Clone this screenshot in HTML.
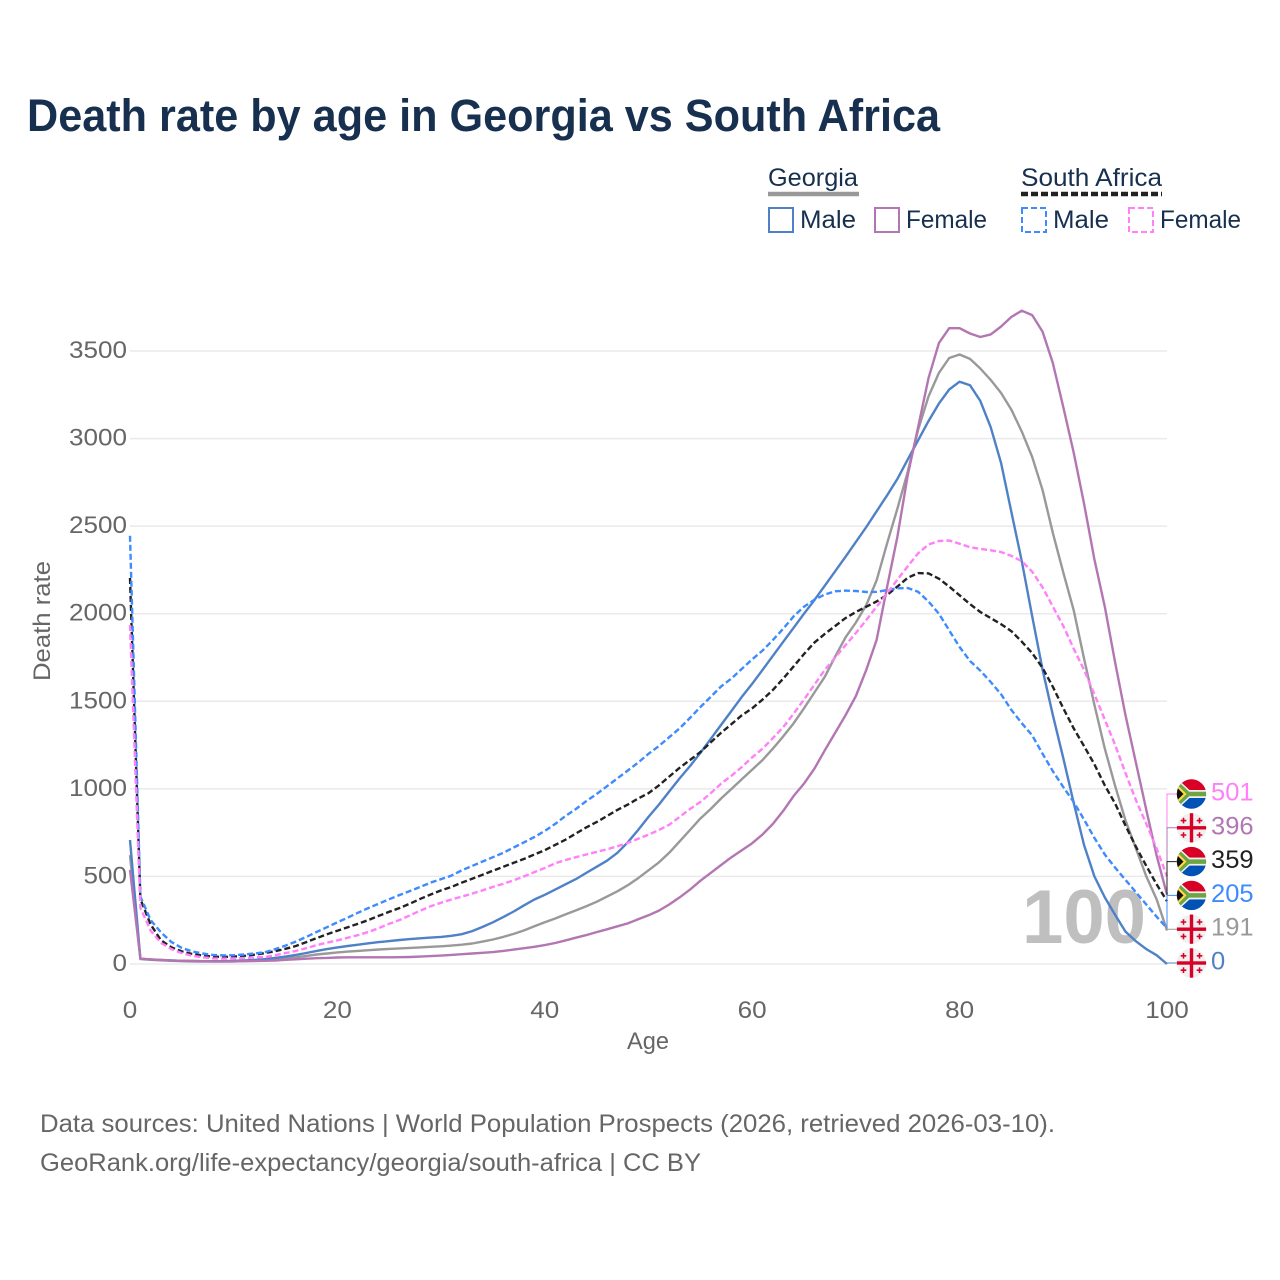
<!DOCTYPE html>
<html lang="en">
<head>
<meta charset="utf-8">
<title>Death rate by age in Georgia vs South Africa</title>
<style>
html,body{margin:0;padding:0;background:#fff;}
svg{display:block;font-family:"Liberation Sans",sans-serif;}
</style>
</head>
<body>
<svg id="chart" xmlns="http://www.w3.org/2000/svg" width="1280" height="1280" viewBox="0 0 1280 1280">
  <rect x="0" y="0" width="1280" height="1280" fill="#fff"/>
  <text x="27" y="131" font-size="45" font-weight="700" fill="#17304f" textLength="913" lengthAdjust="spacingAndGlyphs">Death rate by age in Georgia vs South Africa</text>

  <g>
    <text x="768" y="186" font-size="25" fill="#17304f" textLength="90" lengthAdjust="spacingAndGlyphs">Georgia</text>
    <line x1="768" x2="859" y1="194" y2="194" stroke="#999" stroke-width="4.5"/>
    <text x="1021" y="186" font-size="25" fill="#17304f" textLength="141" lengthAdjust="spacingAndGlyphs">South Africa</text>
    <line x1="1021" x2="1162" y1="194" y2="194" stroke="#222" stroke-width="4.5" stroke-dasharray="7 3"/>
    <rect x="769" y="208" width="24" height="24" fill="none" stroke="#4f81c7" stroke-width="2"/>
    <text x="800" y="228" font-size="25" fill="#17304f" textLength="56" lengthAdjust="spacingAndGlyphs">Male</text>
    <rect x="875" y="208" width="24" height="24" fill="none" stroke="#b376b3" stroke-width="2"/>
    <text x="906" y="228" font-size="25" fill="#17304f" textLength="81" lengthAdjust="spacingAndGlyphs">Female</text>
    <rect x="1022" y="208" width="24" height="24" fill="none" stroke="#3d8bff" stroke-width="2" stroke-dasharray="6 3"/>
    <text x="1053" y="228" font-size="25" fill="#17304f" textLength="56" lengthAdjust="spacingAndGlyphs">Male</text>
    <rect x="1129" y="208" width="24" height="24" fill="none" stroke="#ff80f7" stroke-width="2" stroke-dasharray="6 3"/>
    <text x="1160" y="228" font-size="25" fill="#17304f" textLength="81" lengthAdjust="spacingAndGlyphs">Female</text>
  </g>

  <g id="grid"></g>
  <g id="yticks"></g>
  <g id="xticks"></g>
  <text x="1146" y="943" text-anchor="end" font-size="76" font-weight="700" fill="#bfbfbf" textLength="124" lengthAdjust="spacingAndGlyphs">100</text>
  <text transform="translate(50 621) rotate(-90)" text-anchor="middle" font-size="24" fill="#666" textLength="120" lengthAdjust="spacingAndGlyphs">Death rate</text>
  <text x="648" y="1049" text-anchor="middle" font-size="24" fill="#666" textLength="42" lengthAdjust="spacingAndGlyphs">Age</text>
  <g id="series"></g>
  <g id="labels"></g>

  <text x="40" y="1132" font-size="25" fill="#666" textLength="1015" lengthAdjust="spacingAndGlyphs">Data sources: United Nations | World Population Prospects (2026, retrieved 2026-03-10).</text>
  <text x="40" y="1171" font-size="25" fill="#666" textLength="661" lengthAdjust="spacingAndGlyphs">GeoRank.org/life-expectancy/georgia/south-africa | CC BY</text>

  <defs>
    <clipPath id="flag-clip"><circle cx="0" cy="0" r="14.7"/></clipPath>
    <g id="flag-za" clip-path="url(#flag-clip)">
      <rect x="-15" y="-15" width="30" height="30" fill="#f0f0f0"/>
      <rect x="-15" y="-15" width="30" height="11" fill="#d80027"/>
      <rect x="-15" y="4" width="30" height="11" fill="#0052b4"/>
      <path d="M-15 -15 L-2 -3 H15 V3 H-2 L-15 15 Z" fill="#6da544"/>
      <path d="M-15 -15 L-2 -3 H15 M15 3 H-2 L-15 15" fill="none" stroke="#f0f0f0" stroke-width="1.5"/>
      <path d="M-15 -10 L-5 0 L-15 10 Z" fill="#ffda44"/>
      <path d="M-15 -7 L-8 0 L-15 7 Z" fill="#111"/>
    </g>
    <g id="flag-ge" clip-path="url(#flag-clip)">
      <rect x="-15" y="-15" width="30" height="30" fill="#f0f0f0"/>
      <rect x="-15" y="-1.7" width="30" height="3.4" fill="#d80027"/>
      <rect x="-1.7" y="-15" width="3.4" height="30" fill="#d80027"/>
      <path d="M-8.8 -10 h1.6 v2 h2 v1.6 h-2 v2 h-1.6 v-2 h-2 v-1.6 h2 Z M7.2 -10 h1.6 v2 h2 v1.6 h-2 v2 h-1.6 v-2 h-2 v-1.6 h2 Z M-8.8 4.4 h1.6 v2 h2 v1.6 h-2 v2 h-1.6 v-2 h-2 v-1.6 h2 Z M7.2 4.4 h1.6 v2 h2 v1.6 h-2 v2 h-1.6 v-2 h-2 v-1.6 h2 Z" fill="#d80027"/>
    </g>
  </defs>
</svg>

<script>
const xTicks = [0, 20, 40, 60, 80, 100];
const yTicks = [0, 500, 1000, 1500, 2000, 2500, 3000, 3500];

const georgiaTotal = [
  622,28,24,21,18,16,15,14,14,14,
  15,17,19,22,26,32,38,46,54,60,
  66,71,75,79,83,86,89,92,95,98,
  101,105,110,117,128,140,155,172,192,215,
  238,260,283,306,330,355,385,415,450,490,
  535,580,635,700,765,830,885,945,1000,1055,
  1110,1165,1230,1300,1375,1460,1550,1640,1755,1865,
  1950,2050,2190,2400,2600,2810,3050,3240,3375,3460,
  3480,3455,3400,3335,3260,3165,3040,2895,2705,2460,
  2235,2020,1745,1480,1230,1015,820,660,500,370,191
];
const georgiaMale = [
  708,30,26,23,20,18,17,16,16,16,
  18,20,23,28,35,42,52,63,75,85,
  95,103,110,118,125,131,137,142,147,151,
  155,161,170,188,212,238,268,300,335,368,
  395,425,455,485,520,555,590,635,695,765,
  840,910,985,1060,1130,1205,1285,1365,1445,1525,
  1600,1680,1760,1840,1920,2000,2078,2160,2243,2325,
  2410,2495,2585,2675,2770,2880,2990,3100,3200,3280,
  3325,3305,3215,3065,2860,2580,2300,1985,1680,1420,
  1175,920,680,500,380,280,185,130,85,50,0
];
const georgiaFemale = [
  537,30,26,23,20,18,17,16,15,15,
  15,16,17,18,20,24,27,30,33,35,
  37,38,38,38,38,38,39,40,42,45,
  48,52,56,60,64,68,75,82,90,98,
  108,120,135,150,165,182,198,215,232,255,
  278,305,340,380,425,475,520,565,610,650,
  690,740,800,875,960,1030,1115,1220,1320,1420,
  1530,1680,1850,2150,2440,2790,3065,3345,3545,3630,
  3630,3600,3580,3595,3640,3695,3730,3705,3610,3430,
  3180,2920,2630,2310,2040,1720,1420,1150,880,620,396
];
const southAfricaTotal = [
  2204,370,225,135,95,72,57,48,42,40,
  42,46,53,62,73,87,103,125,148,170,
  190,210,230,251,275,298,320,345,372,397,
  420,440,465,487,510,533,555,578,600,625,
  650,680,710,745,780,810,845,880,910,945,
  975,1020,1070,1120,1165,1210,1265,1320,1370,1420,
  1460,1510,1565,1630,1700,1770,1835,1885,1930,1975,
  2010,2040,2070,2107,2155,2205,2232,2230,2200,2155,
  2105,2055,2010,1975,1940,1900,1840,1775,1690,1582,
  1460,1345,1245,1140,1020,915,790,670,560,455,359
];
const southAfricaMale = [
  2445,385,250,180,125,92,72,60,52,49,
  50,54,60,67,85,105,128,155,183,210,
  238,265,293,320,345,370,394,417,440,465,
  485,505,535,560,585,610,635,665,695,725,
  760,800,845,885,930,970,1015,1060,1105,1150,
  1200,1245,1295,1345,1405,1467,1525,1585,1630,1685,
  1740,1790,1850,1915,1985,2040,2080,2110,2128,2132,
  2130,2124,2125,2135,2145,2147,2125,2070,2000,1905,
  1810,1730,1675,1610,1540,1450,1375,1305,1200,1100,
  1010,925,825,720,625,550,480,410,340,270,205
];
const southAfricaFemale = [
  1935,320,190,120,85,62,47,38,32,30,
  32,34,37,40,50,62,75,90,108,122,
  135,150,165,183,205,230,251,278,305,330,
  350,368,385,402,420,440,458,478,500,525,
  548,575,594,610,625,640,655,672,692,715,
  738,765,795,840,885,925,975,1030,1075,1125,
  1180,1230,1290,1353,1430,1510,1595,1680,1750,1820,
  1890,1964,2040,2115,2195,2270,2345,2395,2415,2418,
  2400,2380,2370,2362,2352,2330,2300,2240,2150,2040,
  1930,1800,1680,1540,1395,1250,1090,936,800,660,501
];

const NS = 'http://www.w3.org/2000/svg';
function xScale(age) { return 130 + age * 10.37; }
function yScale(v) { return 964 - v * 0.17514; }
function make(tag, attrs, parent) {
  const el = document.createElementNS(NS, tag);
  for (const k in attrs) el.setAttribute(k, attrs[k]);
  parent.appendChild(el);
  return el;
}

const gridG = document.getElementById('grid');
const yG = document.getElementById('yticks');
const xG = document.getElementById('xticks');

yTicks.forEach(function (t) {
  const line = make('line', {x1: 130, x2: 1167, y1: yScale(t), y2: yScale(t), stroke: '#eaeaea', 'stroke-width': 1.5}, gridG);
  
  
  const s = String(t);
  const label = make('text', {x: 127, y: yScale(t) + 7, 'text-anchor': 'end', 'font-size': 24, fill: '#666', textLength: s.length * 14.5, lengthAdjust: 'spacingAndGlyphs'}, yG);
  
  
  label.textContent = s;
});

xTicks.forEach(function (t) {
  const s = String(t);
  const label = make('text', {x: xScale(t), y: 1018, 'text-anchor': 'middle', 'font-size': 24, fill: '#666', textLength: s.length * 14.5, lengthAdjust: 'spacingAndGlyphs'}, xG);
  
  
  label.textContent = s;
});

const seriesList = [
  {key: 'georgia-total', values: georgiaTotal, color: '#999999', dash: '', flag: 'flag-ge'},
  {key: 'georgia-male', values: georgiaMale, color: '#4f81c7', dash: '', flag: 'flag-ge'},
  {key: 'georgia-female', values: georgiaFemale, color: '#b376b3', dash: '', flag: 'flag-ge'},
  {key: 'south-africa-total', values: southAfricaTotal, color: '#222222', dash: '6 3', flag: 'flag-za'},
  {key: 'south-africa-male', values: southAfricaMale, color: '#3d8bff', dash: '6 3', flag: 'flag-za'},
  {key: 'south-africa-female', values: southAfricaFemale, color: '#ff80f7', dash: '6 3', flag: 'flag-za'}
];

const seriesG = document.getElementById('series');
seriesList.forEach(function (s) {
  const pts = s.values.map(function (v, i) { return xScale(i).toFixed(1) + ',' + yScale(v).toFixed(1); }).join(' ');
  const attrs = {points: pts, fill: 'none', stroke: s.color, 'stroke-width': 2.4, 'stroke-linejoin': 'round'};
  if (s.dash) attrs['stroke-dasharray'] = s.dash;
  const line = make('polyline', attrs, seriesG);
  
  
});

const labelsG = document.getElementById('labels');
const ranked = seriesList.slice().sort(function (a, b) {
  return b.values[b.values.length - 1] - a.values[a.values.length - 1];
});
ranked.forEach(function (s, i) {
  const last = s.values[s.values.length - 1];
  const slotY = 794 + i * 33.8;
  const endX = xScale(100);
  const conn = make('polyline', {points: endX + ',' + yScale(last).toFixed(1) + ' ' + endX + ',' + slotY + ' 1177,' + slotY, fill: 'none', stroke: s.color, 'stroke-width': 1}, labelsG);
  
  
  const flag = make('use', {href: '#' + s.flag, transform: 'translate(1191.5 ' + slotY + ')'}, labelsG);
  
  
  const str = String(last);
  const txt = make('text', {x: 1211, y: slotY + 6.5, 'font-size': 25, fill: s.color, textLength: str.length * 14.2, lengthAdjust: 'spacingAndGlyphs'}, labelsG);
  
  
  txt.textContent = str;
});
</script>
</body>
</html>
